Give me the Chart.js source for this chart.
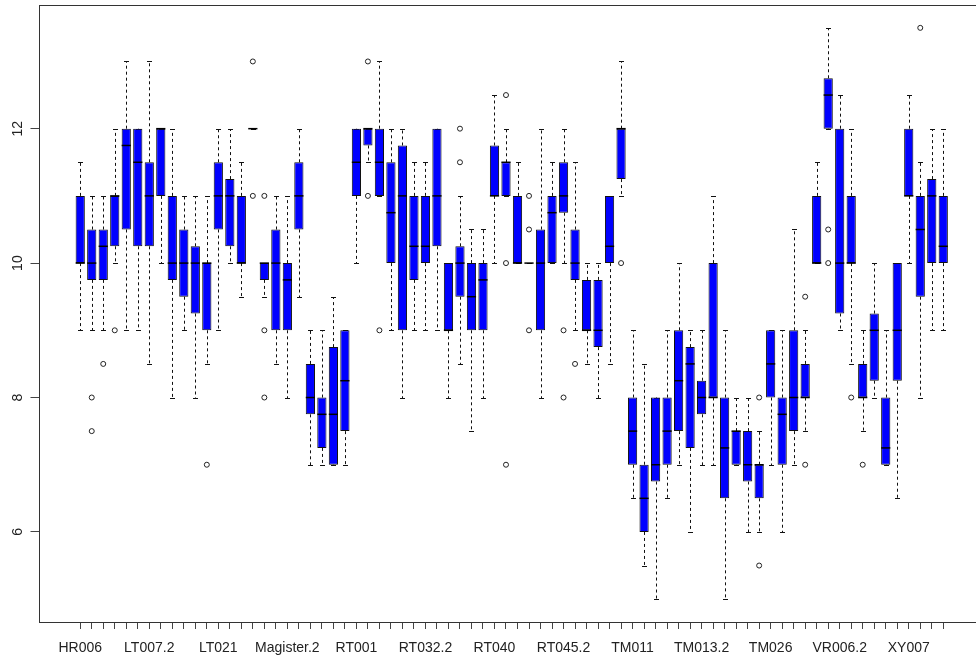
<!DOCTYPE html>
<html>
<head>
<meta charset="utf-8">
<script src="https://cdn.jsdelivr.net/npm/chart.js@4.4.1/dist/chart.umd.min.js"></script>
<style>
  html, body { margin: 0; padding: 0; overflow: hidden; background: #fff; }
  #wrap { width: 1000px; height: 663px; }
</style>
</head>
<body>
<div id="wrap"><canvas id="box" width="1000" height="663"></canvas></div>
<script>
// Boxplot of 76 groups (R style boxplot).

// only every 6th group name is printed on the axis
const shownLabels = ["HR006", "LT007.2", "LT021", "Magister.2", "RT001", "RT032.2", "RT040",
  "RT045.2", "TM011", "TM013.2", "TM026", "VR006.2", "XY007"];
const labelStep = 6;

const whiskLo = [9, 9, 9, 10, 9, 9, 8.5, 10, 8, 9,
  8, 8.5, 9, 10, 9.5, 12, 9.5, 8.5, 8, 9.5,
  7, 7, 7, 7, 10, 11.5, 11, 9, 8, 9,
  9, 9, 8, 8.5, 7.5, 8, 10, 11, 10, 10,
  8, 10, 10, 9, 8.5, 8, 8.5, 11, 6.5, 5.5,
  5, 6.5, 7, 6, 7, 7, 5, 7, 6, 6,
  7, 6, 7, 7.5, 10, 12, 9, 8.5, 7.5, 8,
  7, 6.5, 10, 8, 9, 9];

const q1 = [10, 9.75, 9.75, 10.25, 10.5, 10.25, 10.25, 11, 9.75, 9.5,
  9.25, 9, 10.5, 10.25, 10, 12, 9.75, 9, 9, 10.5,
  7.75, 7.25, 7, 7.5, 11, 11.75, 11, 10, 9, 9.75,
  10, 10.25, 9, 9.5, 9, 9, 11, 11, 10, 10,
  9, 10, 10.75, 9.75, 9, 8.75, 10, 11.25, 7, 6,
  6.75, 7, 7.5, 7.25, 7.75, 8, 6.5, 7, 6.75, 6.5,
  8, 7, 7.5, 8, 10, 12, 9.25, 10, 8, 8.25,
  7, 8.25, 11, 9.5, 10, 10];

const medians = [10, 10, 10.25, 11, 11.75, 11.5, 11, 12, 10, 10,
  10, 10, 11, 11, 10, 12, 10, 10, 9.75, 11,
  8, 7.75, 7.75, 8.25, 11.5, 12, 11.5, 10.75, 11, 10.25,
  10.25, 11, 9, 10, 9.5, 9.75, 11, 11.5, 10, 10,
  10, 10.75, 11, 10, 9, 9, 10.25, 12, 7.5, 6.5,
  7, 7.5, 8.25, 8.5, 8, 8, 7.25, 7.5, 7, 7,
  8.5, 7.75, 8, 8, 10, 12.5, 10, 10, 8, 9,
  7.25, 9, 11, 10.5, 11, 10.25];

const q3 = [11, 10.5, 10.5, 11, 12, 12, 11.5, 12, 11, 10.5,
  10.25, 10, 11.5, 11.25, 11, 12, 10, 10.5, 10, 11.5,
  8.5, 8, 8.75, 9, 12, 12, 12, 11.5, 11.75, 11,
  11, 12, 10, 10.25, 10, 10, 11.75, 11.5, 11, 10,
  10.5, 11, 11.5, 10.5, 9.75, 9.75, 11, 12, 8, 7,
  8, 8, 9, 8.75, 8.25, 10, 8, 7.5, 7.5, 7,
  9, 8, 9, 8.5, 11, 12.75, 12, 11, 8.5, 9.25,
  8, 10, 12, 11, 11.25, 11];

const whiskHi = [11.5, 11, 11, 12, 13, 12, 13, 12, 12, 11,
  11, 11, 12, 12, 11.5, 12, 10, 11, 11, 12,
  9, 9, 9.5, 9, 12, 12, 13, 12, 12, 11.5,
  11.5, 12, 10, 11, 10.5, 10.5, 12.5, 12, 11.5, 10,
  12, 11.5, 12, 11.5, 10, 10, 11, 13, 9, 8.5,
  8, 9, 10, 9, 9, 11, 9, 8, 8, 7.5,
  9, 9, 10.5, 9, 11.5, 13.5, 12.5, 12, 9, 10,
  9, 10, 12.5, 11.5, 12, 12];

// outliers, keyed by group index (0-based)
const outliers = {
  1: [8, 7.5], 2: [8.5], 3: [9], 11: [7], 15: [13, 11], 16: [11, 9, 8],
  25: [13, 11], 26: [9], 33: [12, 11.5], 37: [12.5, 10, 7], 39: [11, 10.5, 9],
  42: [9, 8], 43: [8.5], 47: [10], 59: [8, 5.5], 63: [9.5, 7], 65: [10.5, 10],
  67: [8], 68: [7], 73: [13.5]
};

const yTicks = [6, 8, 10, 12];

Chart.defaults.font.family = '"Liberation Sans", Arial, sans-serif';
Chart.defaults.font.size = 14;
Chart.defaults.color = "#222";

const positions = q1.map((_, i) => i + 1);
const boxData = positions.map((p, i) => ({ x: p, y: [q1[i], q3[i]] }));
const outlierData = [];
Object.keys(outliers).forEach((k) => {
  outliers[k].forEach((v) => outlierData.push({ x: Number(k) + 1, y: v }));
});

// whiskers, staples, medians and the frame round the plot
const boxExtras = {
  id: "boxExtras",
  beforeDatasetsDraw(chart) {
    const { ctx } = chart;
    const xs = chart.scales.x;
    const ys = chart.scales.y;
    ctx.save();
    ctx.strokeStyle = "#111";
    ctx.lineWidth = 1;
    positions.forEach((p, i) => {
      const x = Math.round(xs.getPixelForValue(p)) + 0.5;
      const segs = [[q3[i], whiskHi[i]], [q1[i], whiskLo[i]]];
      segs.forEach(([from, to]) => {
        const y0 = ys.getPixelForValue(from);
        const y1 = Math.round(ys.getPixelForValue(to)) + 0.5;
        ctx.setLineDash([3, 3]);
        ctx.beginPath();
        ctx.moveTo(x, y0);
        ctx.lineTo(x, y1);
        ctx.stroke();
        ctx.setLineDash([]);
        ctx.beginPath();
        ctx.moveTo(x - 2.5, y1);
        ctx.lineTo(x + 2.5, y1);
        ctx.stroke();
      });
    });
    ctx.restore();
  },
  afterDatasetsDraw(chart) {
    const { ctx, chartArea } = chart;
    const ys = chart.scales.y;
    const bars = chart.getDatasetMeta(0).data;
    ctx.save();
    ctx.strokeStyle = "#000";
    ctx.lineWidth = 1.5;
    bars.forEach((bar, i) => {
      const y = ys.getPixelForValue(medians[i]);
      const half = bar.width / 2;
      ctx.beginPath();
      ctx.moveTo(bar.x - half, y);
      ctx.lineTo(bar.x + half, y);
      ctx.stroke();
    });
    ctx.strokeStyle = "#333";
    ctx.lineWidth = 1;
    ctx.strokeRect(chartArea.left, chartArea.top + 0.5, chartArea.right - chartArea.left, chartArea.bottom - chartArea.top);
    ctx.restore();
  }
};

new Chart(document.getElementById("box"), {
  type: "bar",
  data: {
    datasets: [
      {
        type: "bar",
        data: boxData,
        backgroundColor: "#0000ff",
        borderColor: "#111",
        borderWidth: 1,
        borderSkipped: false,
        barPercentage: 0.8,
        categoryPercentage: 1
      },
      {
        type: "scatter",
        data: outlierData,
        pointStyle: "circle",
        pointRadius: 2.5,
        pointBorderWidth: 1,
        pointBorderColor: "#222",
        pointBackgroundColor: "rgba(0,0,0,0)"
      }
    ]
  },
  options: {
    responsive: false,
    animation: false,
    layout: { padding: { top: 5, right: 16, left: 0, bottom: 0 } },
    plugins: { legend: { display: false }, tooltip: { enabled: false } },
    scales: {
      x: {
        type: "linear",
        offset: false,
        min: -2.54,
        max: 79.54,
        afterBuildTicks: (scale) => { scale.ticks = positions.map((v) => ({ value: v })); },
        afterFit: (scale) => {
          scale.height = 41;
          scale.paddingLeft = 0;
          scale.paddingRight = 0;
        },
        grid: { offset: false, drawOnChartArea: false, drawTicks: true, tickLength: 7, color: "#444" },
        border: { display: false },
        ticks: {
          autoSkip: false,
          maxRotation: 0,
          padding: 11,
          callback: (v) => ((v - 1) % labelStep === 0 ? shownLabels[(v - 1) / labelStep] : "")
        }
      },
      y: {
        type: "linear",
        min: 4.66,
        max: 13.84,
        afterBuildTicks: (scale) => { scale.ticks = yTicks.map((v) => ({ value: v })); },
        afterFit: (scale) => {
          scale.width = 39.5;
          scale.paddingTop = 0;
          scale.paddingBottom = 0;
        },
        grid: { drawOnChartArea: false, drawTicks: true, tickLength: 9, color: "#444" },
        border: { display: false },
        ticks: { minRotation: 90, maxRotation: 90, crossAlign: "center", padding: 5 }
      }
    }
  },
  plugins: [boxExtras]
});
</script>
</body>
</html>
